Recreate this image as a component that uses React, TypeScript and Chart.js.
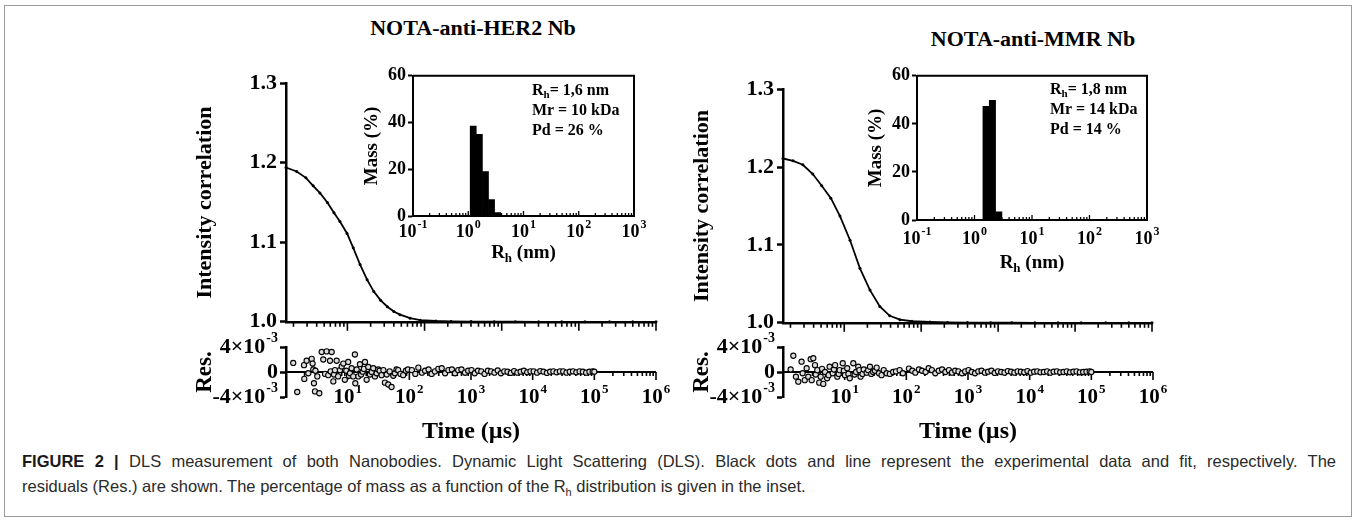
import React, { useEffect, useRef } from "react";
import { Chart, registerables } from "chart.js";
Chart.register(...registerables);

const SERIF = "'Liberation Serif', 'Times New Roman', Times, serif";
const SANS = "'Liberation Sans', Arial, Helvetica, sans-serif";

// ---------- Correlation curves (time in µs) ----------
const herTimes = [1.6, 2.2, 2.9, 3.6, 4.4, 5.5, 6.7, 8.0, 9.9, 11.9, 14.6, 18, 22, 27, 33, 40, 48, 65, 88, 140, 220, 400, 800, 1500, 3000, 6000, 12000, 25000, 50000, 100000];
const herCorr = [1.194, 1.189, 1.181, 1.171, 1.162, 1.15, 1.137, 1.126, 1.111, 1.093, 1.072, 1.053, 1.038, 1.027, 1.019, 1.013, 1.009, 1.0045, 1.002, 1.001, 1.0005, 1.0003, 1.0002, 1.0001, 1.0, 1.0, 1.0, 1.0, 1.0, 1.0];
const mmrTimes = [1.6, 2.16, 2.9, 3.9, 5.1, 6.7, 8.8, 11.9, 16, 21.6, 29, 39, 53, 76, 130, 220, 400, 800, 1500, 3000, 6000, 12000, 25000, 50000, 100000];
const mmrCorr = [1.211, 1.208, 1.203, 1.191, 1.176, 1.16, 1.137, 1.106, 1.07, 1.042, 1.021, 1.009, 1.004, 1.002, 1.001, 1.0005, 1.0003, 1.0002, 1.0001, 1.0, 1.0, 1.0, 1.0, 1.0, 1.0];

// ---------- Residuals (time in µs, value in units of 1e-3) ----------
const herResT = [1.31, 1.52, 1.96, 1.98, 2.16, 2.3, 2.61, 2.7, 2.77, 2.84,
  2.95, 3.0, 3.22, 3.47, 3.79, 4.02, 4.3, 4.56, 4.84, 5.17,
  5.3, 5.5, 5.85, 6.0, 6.22, 6.63, 7.0, 7.5, 8.0, 8.5,
  9.0, 9.5, 10.2, 10.5, 10.9, 11.6, 12.3, 13.1, 13.3, 14.0,
  14.9, 15.8, 16.5, 17.5, 18.3, 19.1, 20.3, 21.6, 23, 24.5,
  26, 27.7, 29.5, 31.3, 33, 35.5, 38, 40.2, 43, 45.5,
  48, 51.5, 55, 58.3, 62, 66, 72, 79.5, 88, 95];
const herResV = [1.45, -3.2, 1.1, -1.1, 1.8, -0.2, 2.1, 1.35, 0.4, -1.8,
  -3.1, 0.2, -0.7, -3.4, 3.2, 2.0, -0.3, 3.3, -0.5, 1.8,
  0.1, 3.2, -1.5, -0.4, 0.3, 1.8, -0.7, 0.3, 0.9, 1.35,
  -1.25, 0.2, 1.6, -0.6, -0.2, 0.6, -0.7, 2.8, -1.8, 0.4,
  -0.7, 1.25, -0.4, 0.05, 0.5, 1.6, -1.25, 0.8, -0.4, 0,
  0.6, -0.7, -0.2, 0.4, 0.2, -0.5, 0.3, -1.7, -0.4, -2.0,
  0.1, -2.4, -0.6, -0.2, 0.4, 0.3, -0.3, -0.5, 0.2, 0.4];
const mmrResT = [1.33, 1.47, 1.62, 1.77, 2.0, 2.08, 2.25, 2.42, 2.57, 2.81,
  2.92, 3.1, 3.3, 3.4, 3.6, 3.87, 4.08, 4.3, 4.5, 4.8,
  5.2, 5.5, 5.7, 6.4, 6.7, 7.0, 7.6, 8.0, 8.3, 9.3,
  9.7, 10.1, 11.0, 11.5, 12.1, 13.8, 14.5, 15.3, 16.6, 17.3,
  18.1, 19.5, 20.4, 22.7, 24, 25.7, 27, 29, 31, 33,
  36, 39.7, 43, 47.9, 54, 61, 68, 78, 88];
const mmrResV = [0.4, 2.6, -0.75, -1.55, 1.65, -0.2, -1.3, 0.6, -0.75, 2.05,
  -1.3, 2.2, 1.1, -0.4, 0.3, -1.7, -0.75, 0.5, -1.9, 0,
  -1.0, -0.5, 0.85, -0.2, 0.4, 1.1, -0.75, -0.3, 0.3, 1.4,
  0.2, -0.5, 0.6, -0.3, -1.0, 1.4, -0.4, 0, 0.85, 0.3,
  -0.75, -0.3, 0.4, -0.1, 0.3, 0.85, -0.3, 0, 0.2, 0.7,
  -0.2, -0.5, 0.3, -0.2, -0.3, 0, 0.1, 0.3, -0.2];
const tailTimes = [110, 125, 140, 160, 180, 205, 230, 260, 295, 335,
  380, 430, 490, 550, 620, 700, 800, 900, 1020, 1150,
  1300, 1470, 1660, 1880, 2120, 2400, 2710, 3060, 3460, 3910,
  4420, 5000, 5650, 6380, 7210, 8150, 9210, 10400, 11800, 13300,
  15000, 17000, 19200, 21700, 24500, 27700, 31300, 35400, 40000, 45200,
  51100, 57700, 65200, 73700, 83300, 94100, 100000];
const herTail = [0.3, -0.3, 0.7, -0.1, 0.2, 0.4, -0.3, 0.1, 0.5, 0.6,
  -0.2, 0.3, 0.4, -0.2, 0.3, 0.4, -0.1, 0.2, 0.3, -0.2,
  0.2, 0.1, -0.3, 0.2, 0.1, -0.1, 0.25, -0.2, 0.1, 0.05,
  -0.15, 0.15, -0.1, 0.05, 0.2, -0.05, 0.1, 0.1, -0.1, 0.15,
  0.05, -0.15, 0.05, 0.1, -0.05, 0.1, 0.1, -0.1, 0.05, 0.1,
  -0.05, 0.1, 0.05, -0.1, 0.05, 0.1, 0.05];
const mmrTail = [0.55, 0.2, -0.1, 0.4, 0.2, 0, 0.6, 0.3, -0.2, 0.2,
  0.4, 0, 0.3, -0.1, 0.2, 0.1, -0.2, 0.1, 0.3, 0,
  -0.2, 0.1, 0.2, -0.1, 0.05, 0.2, -0.15, 0.1, 0, -0.1,
  0.15, 0.05, -0.1, 0.1, 0.05, -0.05, 0.15, -0.1, 0.05, 0.1,
  -0.05, 0, 0.1, -0.1, 0.05, 0.1, -0.05, 0, 0.1, -0.05,
  0.05, 0.1, -0.05, 0, 0.05, 0.1, 0];

// ---------- Inset mass distributions ----------
const herRh = [1.23, 1.59, 2.05, 2.64, 3.4];
const herMass = [38.5, 35, 19, 7, 1.5];
const mmrRh = [1.59, 2.05, 2.64];
const mmrMass = [47.3, 49.8, 3.4];
const herStats = ["1,6 nm", "10 kDa", "26 %"];
const mmrStats = ["1,8 nm", "14 kDa", "14 %"];

// ---------- Axes / ticks ----------
const corrTicks = [1.0, 1.1, 1.2, 1.3];
const massTicks = [0, 20, 40, 60];
const resTicks = [-4, 0, 4];
const resTickBase = ["-4×10", "0", "4×10"];
const resTickExp = ["-3", "", "-3"];
const timeLabelExps = [1, 2, 3, 4, 5, 6];
const rhLabelExps = [-1, 0, 1, 2, 3];
const logSteps = [1, 2, 3, 4, 5, 6, 7, 8, 9];
const mainTimeRange = [1.6, 100000];
const resTimeRange = [1, 1000000];
const rhRange = [0.1, 1000];

type Area = { l: number; t: number; r: number; b: number };
type Spec = { area: Area; wy: number; pt: number; pr: number; hx: number; make: (s: Spec) => any };

function drawLogTicks(ctx: CanvasRenderingContext2D, scale: any, y: number, dir: number, majorLen: number, minorLen: number, width: number) {
  const lo = Math.floor(Math.log10(scale.min) + 1e-9);
  const hi = Math.ceil(Math.log10(scale.max) - 1e-9);
  ctx.save();
  ctx.strokeStyle = "#000";
  ctx.lineWidth = width;
  for (let e = lo; e <= hi; e++) {
    for (const k of logSteps) {
      const v = k * Math.pow(10, e);
      if (v < scale.min * 0.9999 || v > scale.max * 1.0001) continue;
      const x = scale.getPixelForValue(v);
      const len = k === 1 ? majorLen : minorLen;
      ctx.beginPath();
      ctx.moveTo(x, y);
      ctx.lineTo(x, y + dir * len);
      ctx.stroke();
    }
  }
  ctx.restore();
}

function drawPow(ctx: CanvasRenderingContext2D, x: number, cy: number, base: string, exp: string, size: number, align: "center" | "right") {
  ctx.save();
  const bf = `bold ${size}px ${SERIF}`;
  const ef = `bold ${Math.round(size * 0.64)}px ${SERIF}`;
  ctx.font = bf;
  const bw = ctx.measureText(base).width;
  ctx.font = ef;
  const ew = exp ? ctx.measureText(exp).width + 1 : 0;
  const total = bw + ew;
  const x0 = align === "center" ? x - total / 2 : x - total;
  ctx.fillStyle = "#000";
  ctx.textBaseline = "middle";
  ctx.textAlign = "left";
  ctx.font = bf;
  ctx.fillText(base, x0, cy);
  if (exp) {
    ctx.font = ef;
    ctx.fillText(exp, x0 + bw + 1, cy - size * 0.38);
  }
  ctx.restore();
}

function drawRhTitle(ctx: CanvasRenderingContext2D, cx: number, cy: number, size: number) {
  ctx.save();
  const big = `bold ${size}px ${SERIF}`;
  const small = `bold ${Math.round(size * 0.68)}px ${SERIF}`;
  ctx.font = big;
  const w1 = ctx.measureText("R").width;
  const w3 = ctx.measureText(" (nm)").width;
  ctx.font = small;
  const w2 = ctx.measureText("h").width;
  const x0 = cx - (w1 + w2 + w3) / 2;
  ctx.fillStyle = "#000";
  ctx.textBaseline = "middle";
  ctx.textAlign = "left";
  ctx.font = big;
  ctx.fillText("R", x0, cy);
  ctx.fillText(" (nm)", x0 + w1 + w2, cy);
  ctx.font = small;
  ctx.fillText("h", x0 + w1, cy + size * 0.3);
  ctx.restore();
}

const baseOpts = (s: Spec) => ({
  animation: false,
  responsive: false,
  events: [],
  layout: { padding: { left: 0, top: s.pt, right: s.pr, bottom: 0 } },
  plugins: { legend: { display: false }, tooltip: { enabled: false } },
});

function mainSpec(area: Area, times: number[], values: number[]): Spec {
  return {
    area, wy: 94, pt: 16, pr: 6, hx: 16,
    make: (s) => ({
      type: "scatter",
      data: {
        datasets: [{
          data: times.map((t, i) => ({ x: t, y: values[i] })),
          showLine: true, borderColor: "#000", borderWidth: 1.8,
          pointRadius: 1.5, pointHoverRadius: 0, pointBackgroundColor: "#000", pointBorderWidth: 0, clip: 6,
        }],
      },
      options: {
        ...baseOpts(s),
        scales: {
          x: {
            type: "logarithmic", min: mainTimeRange[0], max: mainTimeRange[1],
            grid: { display: false }, ticks: { display: false },
            border: { display: true, width: 2.5, color: "#000" },
            afterFit: (sc: any) => { sc.height = s.hx; },
          },
          y: {
            type: "linear", min: corrTicks[0], max: corrTicks[corrTicks.length - 1],
            afterBuildTicks: (sc: any) => { sc.ticks = corrTicks.map((v) => ({ value: v })); },
            ticks: { color: "#000", font: { family: SERIF, size: 22, weight: "bold" }, padding: 3, callback: (v: any) => Number(v).toFixed(1) },
            grid: { display: true, drawOnChartArea: false, drawTicks: true, tickLength: 6, tickWidth: 2.5, tickColor: "#000" },
            border: { display: true, width: 2.5, color: "#000" },
            title: { display: true, text: "Intensity correlation", color: "#000", font: { family: SERIF, size: 22, weight: "bold" }, padding: 0 },
            afterFit: (sc: any) => { sc.width = s.wy; },
          },
        },
      },
      plugins: [{
        id: "mainTicks",
        afterDraw(chart: any) {
          drawLogTicks(chart.ctx, chart.scales.x, chart.chartArea.bottom + 1, 1, 8, 4, 1.6);
        },
      }],
    }),
  };
}

function resSpec(area: Area, t1: number[], v1: number[], t2: number[], v2: number[]): Spec {
  const pts = t1.map((t, i) => ({ x: t, y: v1[i] })).concat(t2.map((t, i) => ({ x: t, y: v2[i] })));
  return {
    area, wy: 95, pt: 20, pr: 32, hx: 49,
    make: (s) => ({
      type: "scatter",
      data: {
        datasets: [{
          data: pts, pointRadius: 2.6, pointHoverRadius: 0, pointBorderWidth: 1.1,
          pointBorderColor: "#000", pointBackgroundColor: "#dcdcdc", clip: 6,
        }],
      },
      options: {
        ...baseOpts(s),
        scales: {
          x: {
            type: "logarithmic", min: resTimeRange[0], max: resTimeRange[1],
            grid: { display: false }, ticks: { display: false }, border: { display: false },
            title: { display: true, text: "Time (µs)", color: "#000", font: { family: SERIF, size: 24, weight: "bold" }, padding: 0 },
            afterFit: (sc: any) => { sc.height = s.hx; },
          },
          y: {
            type: "linear", min: resTicks[0], max: resTicks[resTicks.length - 1],
            afterBuildTicks: (sc: any) => { sc.ticks = resTicks.map((v) => ({ value: v })); },
            ticks: { display: false },
            grid: { display: true, drawOnChartArea: false, drawTicks: true, tickLength: 6, tickWidth: 2.5, tickColor: "#000" },
            border: { display: true, width: 2.5, color: "#000" },
            title: { display: true, text: "Res.", color: "#000", font: { family: SERIF, size: 23, weight: "bold" }, padding: 0 },
            afterFit: (sc: any) => { sc.width = s.wy; },
          },
        },
      },
      plugins: [{
        id: "resDeco",
        beforeDatasetsDraw(chart: any) {
          const ctx = chart.ctx;
          const ca = chart.chartArea;
          const y0 = chart.scales.y.getPixelForValue(0);
          ctx.save();
          ctx.strokeStyle = "#000";
          ctx.lineWidth = 2.2;
          ctx.beginPath();
          ctx.moveTo(ca.left, y0);
          ctx.lineTo(ca.right, y0);
          ctx.stroke();
          ctx.restore();
          drawLogTicks(ctx, chart.scales.x, y0, 1, 8, 4, 1.6);
        },
        afterDraw(chart: any) {
          const ctx = chart.ctx;
          const ca = chart.chartArea;
          const xs = chart.scales.x;
          const ys = chart.scales.y;
          timeLabelExps.forEach((e) => {
            drawPow(ctx, xs.getPixelForValue(Math.pow(10, e)), ca.bottom + 1, "10", String(e), 21, "center");
          });
          resTicks.forEach((v, i) => {
            drawPow(ctx, ca.left - 8, ys.getPixelForValue(v), resTickBase[i], resTickExp[i], 22, "right");
          });
        },
      }],
    }),
  };
}

function insetSpec(area: Area, rh: number[], mass: number[], labelOff: number, titleOff: number): Spec {
  return {
    area, wy: 52, pt: 12, pr: 28, hx: titleOff + 16,
    make: (s) => ({
      type: "bar",
      data: {
        datasets: [{
          data: rh.map((r, i) => ({ x: r, y: mass[i] })),
          backgroundColor: "#000", borderWidth: 0, barPercentage: 1, categoryPercentage: 1,
        }],
      },
      options: {
        ...baseOpts(s),
        scales: {
          x: {
            type: "logarithmic", min: rhRange[0], max: rhRange[1], offset: false,
            afterBuildTicks: (sc: any) => { sc.ticks = rhLabelExps.map((e) => ({ value: Math.pow(10, e) })); },
            grid: { display: false }, ticks: { display: false },
            border: { display: true, width: 2, color: "#000" },
            afterFit: (sc: any) => { sc.height = s.hx; },
          },
          y: {
            type: "linear", min: massTicks[0], max: massTicks[massTicks.length - 1],
            afterBuildTicks: (sc: any) => { sc.ticks = massTicks.map((v) => ({ value: v })); },
            ticks: { color: "#000", font: { family: SERIF, size: 18, weight: "bold" }, padding: 2 },
            grid: { display: true, drawOnChartArea: false, drawTicks: true, tickLength: 5, tickWidth: 2, tickColor: "#000" },
            border: { display: true, width: 2, color: "#000" },
            title: { display: true, text: "Mass (%)", color: "#000", font: { family: SERIF, size: 19, weight: "bold" }, padding: 0 },
            afterFit: (sc: any) => { sc.width = s.wy; },
          },
        },
      },
      plugins: [{
        id: "insetDeco",
        afterDraw(chart: any) {
          const ctx = chart.ctx;
          const ca = chart.chartArea;
          ctx.save();
          ctx.strokeStyle = "#000";
          ctx.lineWidth = 2;
          ctx.beginPath();
          ctx.moveTo(ca.left, ca.top);
          ctx.lineTo(ca.right, ca.top);
          ctx.lineTo(ca.right, ca.bottom);
          ctx.stroke();
          ctx.restore();
          drawLogTicks(ctx, chart.scales.x, ca.bottom, -1, 5, 3, 1.3);
          rhLabelExps.forEach((e) => {
            drawPow(ctx, chart.scales.x.getPixelForValue(Math.pow(10, e)), ca.bottom + labelOff, "10", String(e), 18, "center");
          });
          drawRhTitle(ctx, (ca.left + ca.right) / 2, ca.bottom + titleOff, 19);
        },
      }],
    }),
  };
}

function ChartCanvas({ spec }: { spec: Spec }) {
  const ref = useRef<HTMLCanvasElement | null>(null);
  const { area, wy, pt, pr, hx } = spec;
  const left = area.l - wy;
  const top = area.t - pt;
  const width = wy + (area.r - area.l) + pr;
  const height = pt + (area.b - area.t) + hx;
  useEffect(() => {
    const chart = new Chart(ref.current as HTMLCanvasElement, spec.make(spec));
    return () => chart.destroy();
  }, []);
  return <canvas ref={ref} width={width} height={height} style={{ position: "absolute", left, top, width, height }} />;
}

function Stats({ left, top, stats }: { left: number; top: number; stats: string[] }) {
  const sub = { fontSize: 11, lineHeight: 0, verticalAlign: "-3px" } as React.CSSProperties;
  return (
    <div style={{ position: "absolute", left, top, font: `bold 16px ${SERIF}`, lineHeight: "20px", whiteSpace: "nowrap", color: "#000" }}>
      <div>R<span style={sub}>h</span>= {stats[0]}</div>
      <div>Mr = {stats[1]}</div>
      <div>Pd = {stats[2]}</div>
    </div>
  );
}

const specs: Spec[] = [
  mainSpec({ l: 286, t: 83, r: 656, b: 322 }, herTimes, herCorr),
  mainSpec({ l: 783, t: 89, r: 1152, b: 323 }, mmrTimes, mmrCorr),
  resSpec({ l: 286, t: 347, r: 656, b: 397 }, herResT, herResV, tailTimes, herTail),
  resSpec({ l: 783, t: 347, r: 1153, b: 397 }, mmrResT, mmrResV, tailTimes, mmrTail),
  insetSpec({ l: 413, t: 75, r: 634, b: 216 }, herRh, herMass, 16, 37),
  insetSpec({ l: 917, t: 75, r: 1147, b: 220 }, mmrRh, mmrMass, 19, 43),
];

export default function App() {
  const title = { position: "absolute", width: 400, textAlign: "center", font: `bold 22px ${SERIF}`, lineHeight: "28px", color: "#000", whiteSpace: "nowrap" } as React.CSSProperties;
  return (
    <div style={{ position: "absolute", left: 0, top: 0, width: 1357, height: 527, background: "#fff", overflow: "hidden" }}>
      <div style={{ position: "absolute", left: 4, top: 5, width: 1346, height: 510, border: "1px solid #9a9a9a" }} />
      <div style={{ ...title, left: 273, top: 14 }}>NOTA-anti-HER2 Nb</div>
      <div style={{ ...title, left: 833, top: 25 }}>NOTA-anti-MMR Nb</div>
      {specs.map((s, i) => <ChartCanvas key={i} spec={s} />)}
      <Stats left={532} top={80} stats={herStats} />
      <Stats left={1050} top={79} stats={mmrStats} />
      <div style={{ position: "absolute", left: 22, top: 449, width: 1314, font: `16.5px ${SANS}`, lineHeight: "25px", color: "#2a2a2a" }}>
        <div style={{ textAlign: "justify", textAlignLast: "justify", whiteSpace: "nowrap" }}><b style={{ color: "#1a1a1a" }}>FIGURE 2 |</b> DLS measurement of both Nanobodies. Dynamic Light Scattering (DLS). Black dots and line represent the experimental data and fit, respectively. The</div>
        <div style={{ whiteSpace: "nowrap" }}>residuals (Res.) are shown. The percentage of mass as a function of the R<sub style={{ fontSize: 11, lineHeight: 0 }}>h</sub> distribution is given in the inset.</div>
      </div>
    </div>
  );
}
